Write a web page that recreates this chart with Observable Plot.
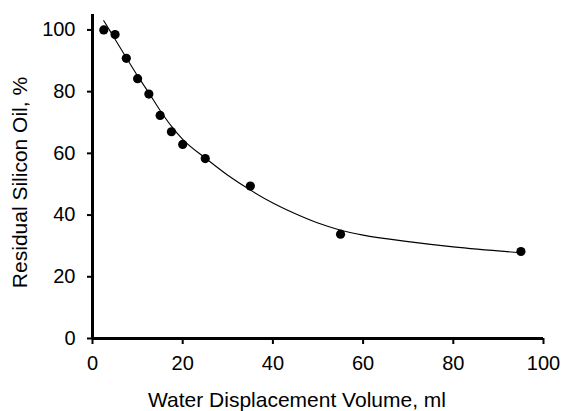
<!DOCTYPE html>
<html>
<head>
<meta charset="utf-8">
<script src="https://cdn.jsdelivr.net/npm/d3@7"></script>
<script src="https://cdn.jsdelivr.net/npm/@observablehq/plot@0.6"></script>
<style>
  html, body { margin: 0; padding: 0; background: #fff; }
</style>
</head>
<body>
<div id="chart"></div>
<script>
// Measured points
const volume = [2.5, 5, 7.5, 10, 12.5, 15, 17.5, 20, 25, 35, 55, 95];
const residual = [100, 98.5, 90.8, 84.2, 79.2, 72.3, 67, 62.9, 58.3, 49.4, 33.8, 28.2];

// Trend curve
const fitVolume = [2.5, 5, 7.5, 10, 12.5, 15, 17.5, 20, 25, 30, 35, 40, 45, 50, 55, 60, 70, 80, 95];
const fitResidual = [103, 97, 91, 85.1, 79.6, 73.9, 68.8, 64.5, 58.5, 52.9, 48.1, 43.9, 40.4, 37.4, 35.1, 33.5, 31.4, 29.7, 27.8];

const xTicks = [0, 20, 40, 60, 80, 100];
const yTicks = [0, 20, 40, 60, 80, 100];
const xLabel = "Water Displacement Volume, ml";
const yLabel = "Residual Silicon Oil, %";

const points = volume.map((v, i) => ({volume: v, residual: residual[i]}));
const fit = fitVolume.map((v, i) => ({volume: v, residual: fitResidual[i]}));

const chart = Plot.plot({
  width: 564,
  height: 411,
  marginLeft: 92,
  marginRight: 21,
  marginTop: 14,
  marginBottom: 73,
  style: {fontFamily: "'Liberation Sans', Arial, sans-serif", background: "#fff", color: "#000"},
  x: {domain: [0, 100]},
  y: {domain: [0, 105]},
  marks: [
    Plot.axisX({ticks: xTicks, tickSize: 6, tickPadding: 11, fontSize: 20, strokeWidth: 2, label: null, tickFormat: d => String(d)}),
    Plot.axisY({ticks: yTicks, tickSize: 5, tickPadding: 12, fontSize: 20, strokeWidth: 2, label: null, tickFormat: d => String(d)}),
    Plot.ruleX([0], {stroke: "#000", strokeWidth: 3}),
    Plot.ruleY([0], {stroke: "#000", strokeWidth: 3}),
    Plot.line(fit, {x: "volume", y: "residual", curve: "monotone-x", stroke: "#000", strokeWidth: 1.1}),
    Plot.dot(points, {x: "volume", y: "residual", r: 4.6, fill: "#000", stroke: null}),
    Plot.text([yLabel], {frameAnchor: "left", textAnchor: "middle", rotate: -90, dx: -72, dy: 6, fontSize: 21, fill: "#000"}),
    Plot.text([xLabel], {frameAnchor: "bottom", textAnchor: "middle", dx: -21, dy: 68, fontSize: 21, fill: "#000"})
  ]
});
document.getElementById("chart").append(chart);
</script>
</body>
</html>
